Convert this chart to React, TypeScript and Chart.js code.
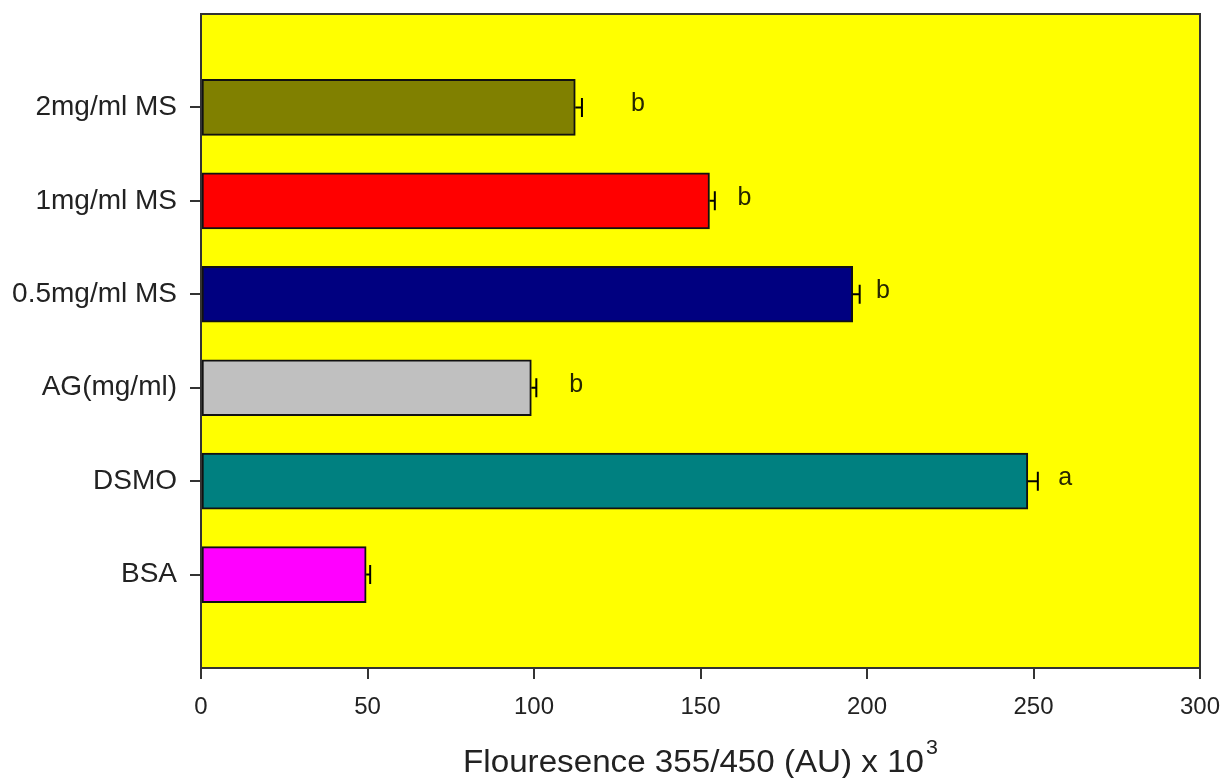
import React, { useEffect, useRef } from "react";
import { Chart, registerables } from "chart.js";

Chart.register(...registerables);

const categories = ["2mg/ml MS", "1mg/ml MS", "0.5mg/ml MS", "AG(mg/ml)", "DSMO", "BSA"];
const values = [112.4, 152.7, 195.7, 99.2, 248.3, 49.6];
const errors = [2.0, 1.6, 2.1, 1.5, 3.0, 1.2];
const letters = ["b", "b", "b", "b", "a", ""];
const letterX = [131.2, 163.2, 204.8, 112.7, 259.5, 0];
const barColors = ["#808000", "#FF0000", "#000080", "#C0C0C0", "#008080", "#FF00FF"];
const xTicks = [0, 50, 100, 150, 200, 250, 300];
const axisTitle = "Flouresence 355/450 (AU) x 10";
const axisTitleSup = "3";

const FONT = "'Liberation Sans', Arial, sans-serif";

export default function App() {
  const ref = useRef<HTMLCanvasElement | null>(null);

  useEffect(() => {
    if (!ref.current) return;
    const labels = ["", ...categories, ""];
    const data = [null, ...values, null];
    const colors = ["#000", ...barColors, "#000"];

    const framePlugin = {
      id: "frame",
      beforeDatasetsDraw(chart: any) {
        const { ctx, chartArea: a } = chart;
        ctx.save();
        ctx.fillStyle = "#FFFF00";
        ctx.fillRect(a.left, a.top, a.right - a.left, a.bottom - a.top);
        ctx.restore();
      },
      afterDatasetsDraw(chart: any) {
        const { ctx, chartArea: a, scales } = chart;
        const xs = scales.x;
        const ys = scales.y;
        ctx.save();
        // error bars
        ctx.strokeStyle = "#000";
        ctx.lineWidth = 2;
        values.forEach((v, i) => {
          const y = ys.getPixelForValue(i + 1);
          const x0 = xs.getPixelForValue(v);
          const x1 = xs.getPixelForValue(v + errors[i]);
          ctx.beginPath();
          ctx.moveTo(x0, y);
          ctx.lineTo(x1, y);
          ctx.moveTo(x1, y - 9.5);
          ctx.lineTo(x1, y + 9.5);
          ctx.stroke();
        });
        // letters
        ctx.fillStyle = "#262600";
        ctx.font = "25px " + FONT;
        ctx.textAlign = "center";
        ctx.textBaseline = "middle";
        letters.forEach((l, i) => {
          if (!l) return;
          const y = ys.getPixelForValue(i + 1);
          const x = xs.getPixelForValue(letterX[i]);
          ctx.fillText(l, x, y - 3);
        });
        // frame
        ctx.strokeStyle = "#333";
        ctx.lineWidth = 2;
        ctx.strokeRect(a.left, a.top, a.right - a.left, a.bottom - a.top);
        // axis title with superscript (slightly widened)
        const sx = 1.07;
        ctx.fillStyle = "#222";
        ctx.textBaseline = "alphabetic";
        ctx.textAlign = "left";
        ctx.font = "31px " + FONT;
        const w = ctx.measureText(axisTitle).width * sx;
        ctx.font = "20px " + FONT;
        const ws = ctx.measureText(axisTitleSup).width * sx;
        const cx = (a.left + a.right) / 2;
        const startX = cx - (w + ws + 2) / 2;
        ctx.save();
        ctx.translate(startX, 772);
        ctx.scale(sx, 1);
        ctx.font = "31px " + FONT;
        ctx.fillText(axisTitle, 0, 0);
        ctx.restore();
        ctx.save();
        ctx.translate(startX + w + 2, 754);
        ctx.scale(sx, 1);
        ctx.font = "20px " + FONT;
        ctx.fillText(axisTitleSup, 0, 0);
        ctx.restore();
        ctx.restore();
      },
    };

    const chart = new Chart(ref.current, {
      type: "bar",
      data: {
        labels,
        datasets: [
          {
            data: data as any,
            backgroundColor: colors,
            borderColor: "#111",
            borderWidth: 2,
            borderSkipped: false,
            barThickness: 56,
          },
        ],
      },
      options: {
        indexAxis: "y",
        animation: false,
        responsive: true,
        maintainAspectRatio: false,
        layout: { padding: { left: 0, right: 23, top: 14, bottom: 0 } },
        plugins: { legend: { display: false }, tooltip: { enabled: false }, title: { display: false } },
        scales: {
          x: {
            type: "linear",
            min: 0,
            max: 300,
            afterBuildTicks: (s: any) => {
              s.ticks = xTicks.map((v) => ({ value: v }));
            },
            afterFit: (s: any) => {
              s.height = 110;
              s.paddingLeft = 0;
              s.paddingRight = 0;
            },
            border: { display: false },
            grid: {
              drawOnChartArea: false,
              drawTicks: true,
              tickLength: 11,
              color: "#333",
              lineWidth: 2,
            },
            ticks: {
              color: "#222",
              padding: 14,
              maxRotation: 0,
              font: { family: FONT, size: 24 },
            },
          },
          y: {
            type: "category",
            offset: false,
            afterFit: (s: any) => {
              s.width = 201;
              s.paddingTop = 0;
              s.paddingBottom = 0;
            },
            border: { display: false },
            grid: {
              offset: false,
              drawOnChartArea: false,
              drawTicks: true,
              tickLength: 11,
              lineWidth: 2,
              color: (c: any) => (c.index === 0 || c.index === labels.length - 1 ? "rgba(0,0,0,0)" : "#333"),
            },
            ticks: {
              autoSkip: false,
              color: "#222",
              padding: 13,
              font: { family: FONT, size: 28 },
            },
          },
        },
      },
      plugins: [framePlugin],
    });
    return () => chart.destroy();
  }, []);

  return (
    <div style={{ position: "fixed", left: 0, top: 0, width: 1223, height: 778, background: "#fff" }}>
      <canvas ref={ref} />
    </div>
  );
}
